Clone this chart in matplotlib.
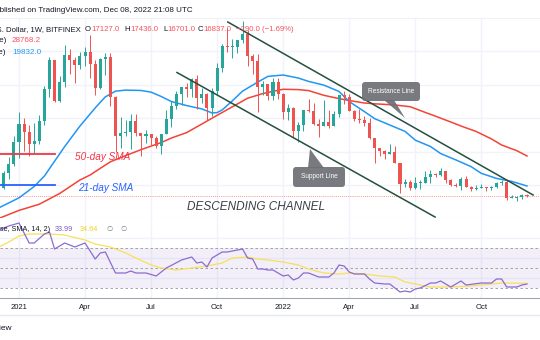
import numpy as np
import pandas as pd
import matplotlib
matplotlib.use('Agg')
import matplotlib.pyplot as plt
from matplotlib.patches import FancyBboxPatch, Polygon

plt.rcParams['font.family'] = ['Liberation Sans', 'DejaVu Sans']

# weekly BTC/USD candles, first bar = week of 2020-12-07
first_week = '2020-12-07'
opens = [19150, 19270, 23850, 26270, 33000, 38200, 36000, 32300, 33100, 39200,
         48600, 57500, 45100, 50900, 59000, 57400, 55800, 58700, 59700, 56200,
         49100, 57800, 58200, 46400, 34700, 35600, 35800, 39100, 35500, 34700,
         35300, 34200, 31800, 35400, 39900, 43800, 47100, 49300, 48800, 51800,
         46000, 47300, 43200, 48200, 54900, 61500, 61300, 61300, 63300, 65000,
         58600, 57200, 49400, 50100, 46700, 50800, 47300, 41800, 43100, 36300,
         37900, 42400, 42200, 38400, 37700, 38800, 37800, 41300, 46800, 46400,
         42200, 39700, 39500, 38500, 34000, 31300, 30300, 29400, 29900, 26600,
         20500, 21000, 19300, 20800, 20800, 22600, 23300, 23200, 24300, 21500,
         20000, 19800, 21800, 19400, 18800, 19300, 19400, 19200, 19600, 20600,
         20900, 16300, 16300, 16500, 17127]
highs = [19420, 24300, 28400, 34800, 41950, 40100, 37900, 38600, 40900, 49700,
         58400, 57500, 52600, 61800, 60800, 58400, 59800, 61300, 64900, 57300,
         58000, 59500, 59600, 46600, 40400, 39500, 41300, 41300, 35500, 36600,
         35300, 34700, 35400, 42600, 45300, 48100, 49300, 50500, 51900, 52900,
         48900, 47400, 49000, 56500, 62000, 67000, 63700, 63400, 69000, 66300,
         59300, 59200, 51000, 50300, 52000, 52100, 47600, 44400, 43500, 38900,
         42600, 45800, 44700, 39700, 45400, 42400, 42300, 46900, 48200, 47100,
         42400, 42900, 40800, 40000, 34200, 31300, 30600, 32300, 31700, 26800,
         21800, 21500, 22400, 21600, 24200, 24700, 23600, 25200, 24400, 21800,
         20600, 22400, 22700, 19900, 20200, 20500, 19500, 19700, 20900, 21500,
         21500, 17200, 16800, 17400, 17436]
lows = [17600, 19000, 21900, 25900, 28100, 30400, 28900, 29300, 32300, 37900,
        46300, 44900, 45000, 49300, 53200, 50400, 54700, 55500, 52000, 47000,
        48800, 53000, 43800, 30000, 31200, 34800, 31000, 34800, 28800, 32700,
        32100, 31100, 29300, 35200, 37400, 42800, 43900, 46400, 46500, 42900,
        44700, 39600, 40800, 47000, 53900, 59700, 58000, 59400, 62300, 55700,
        53300, 42000, 46900, 45600, 45600, 45700, 39700, 39500, 34000, 32900,
        36300, 41800, 38100, 34300, 37700, 37200, 37600, 40500, 44200, 42200,
        39200, 38600, 37700, 33700, 26700, 28700, 28000, 29300, 26600, 17600,
        19600, 18600, 19000, 18900, 20800, 20700, 22400, 22700, 20800, 19800,
        19600, 18600, 19400, 18200, 18500, 19300, 18200, 18700, 19300, 20100,
        15600, 16200, 15500, 16000, 16701]
closes = [19270, 23850, 26270, 33000, 38200, 36000, 32300, 33100, 39200, 48600,
          57500, 45100, 50900, 59000, 57400, 55800, 58700, 59700, 56200, 49100,
          57800, 58200, 46400, 34700, 35600, 35800, 39100, 35500, 34700, 35300,
          34200, 31800, 35400, 39900, 43800, 47100, 49300, 48800, 51800, 46000,
          47300, 43200, 48200, 54900, 61500, 61300, 61300, 63300, 65000, 58600,
          57200, 49400, 50100, 46700, 50800, 47300, 41800, 43100, 36300, 37900,
          42400, 42200, 38400, 37700, 38800, 37800, 41300, 46800, 46400, 42200,
          39700, 39500, 38500, 34000, 31300, 30300, 29400, 29900, 26600, 20500,
          21000, 19300, 20800, 20800, 22600, 23300, 23200, 24300, 21500, 20000,
          19800, 21800, 19400, 18800, 19300, 19400, 19200, 19600, 20600, 20900,
          16300, 16300, 16500, 17127, 16837]

# moving averages (bar index, price)
sma21_idx = [0, 4, 7, 9, 10, 13, 16, 19, 21, 23, 25, 28, 30, 32, 34, 37, 40, 42, 43, 44,
             46, 48, 51, 53, 56, 59, 61, 64, 67, 69, 72, 74, 77, 80, 82, 85, 87, 90, 93, 95,
             98, 101, 104]
sma21_val = [13300, 16300, 19700, 22800, 25000, 31600, 37700, 43100, 46400, 48100,
             48400, 48300, 47800, 46500, 45000, 43800, 42800, 41600, 41700, 42500,
             45200, 48100, 50800, 52500, 52900, 52000, 51000, 49900, 48000, 45000,
             42000, 39900, 38000, 36100, 33500, 31600, 29500, 27600, 25600, 23600,
             22100, 21200, 19832]
sma50_idx = [0, 4, 8, 12, 16, 18, 20, 22, 25, 28, 32, 34, 37, 40, 43, 46, 49, 52, 53, 56,
             59, 61, 64, 67, 69, 72, 74, 78, 81, 84, 86, 89, 91, 94, 97, 99, 102, 104]
sma50_val = [10140, 12560, 14410, 17600, 21620, 23110, 25100, 27040, 28890, 30650,
             32770, 34130, 35740, 38310, 40900, 43430, 45990, 47370, 47720, 48650,
             48560, 48260, 46860, 45870, 45310, 44560, 44330, 43970, 43460, 41740,
             40630, 38900, 37710, 36070, 33860, 32050, 30350, 28768.2]

# RSI and its SMA
rsi_idx = [0, 2, 4, 6, 7, 9, 10, 11, 13, 15, 17, 19, 20, 21, 23, 25, 26, 27, 29, 31,
           33, 36, 38, 39, 40, 41, 42, 44, 45, 48, 49, 50, 51, 52, 53, 54, 56, 57, 58, 59,
           60, 61, 63, 65, 66, 67, 68, 69, 70, 72, 73, 74, 76, 77, 79, 80, 81, 82, 83, 85,
           86, 87, 88, 89, 91, 92, 95, 97, 98, 99, 100, 102, 103, 104]
rsi_val = [88, 92, 95, 75, 75, 84, 86, 69, 75, 71, 75, 59, 65, 66, 45, 45, 47, 45, 45, 42,
           50, 58, 61, 55, 56, 51, 60, 66, 66, 69, 60, 59, 49, 49, 48, 48, 42, 43, 38, 40,
           45, 45, 41, 41, 45, 53, 52, 46, 44, 44, 39, 35, 34, 34, 26, 27, 26, 29, 30, 35,
           35, 37, 34, 31, 37, 33, 35, 35, 39, 39, 31, 31, 33, 33.99]
rsi_sma_idx = [0, 2, 4, 6, 10, 13, 17, 19, 22, 25, 27, 30, 32, 35, 38, 41, 44, 46, 49, 51,
               53, 56, 59, 61, 64, 67, 69, 72, 75, 78, 80, 83, 85, 89, 93, 97, 99, 104]
rsi_sma_val = [71, 76, 82, 84, 84, 83, 78, 74, 71, 65, 60, 53, 50, 48, 50, 52, 55, 60, 61, 59,
               58, 56, 53, 49, 45, 44, 45, 44, 42, 41, 36, 33, 31, 31, 32, 34, 35, 34.64]

# hand drawn channel (bar index, price)
resist_idx = [45.1, 105.2]
resist_px = [68700, 17150]
support_idx = [35.1, 85.9]
support_px = [53650, 10590]

GREEN = '#26a69a'
RED = '#ef5350'
GRID = '#f0f3fa'

o = np.array(opens); h = np.array(highs); l = np.array(lows); c = np.array(closes)
idx = np.arange(len(c))
dates = pd.date_range(first_week, periods=len(c), freq='7D')

# first bar of every quarter gets a label
q_idx, q_lab = [], []
for i in range(1, len(dates)):
  if dates[i].month in (1, 4, 7, 10) and dates[i].month != dates[i-1].month:
    q_idx.append(i)
    q_lab.append(str(dates[i].year) if dates[i].month == 1 else dates[i].strftime('%b'))

fig = plt.figure(figsize=(5.4, 3.4), dpi=100)
W, H = 540.0, 340.0
xlim = (0.26, 106.56)

# price pane
ax = fig.add_axes([0, 1 - 218/H, 1, 200/H])
ax.set_xlim(*xlim)
ax.set_ylim(10294, 69894)
ax.set_xticks(q_idx)
ax.set_yticks([20000, 30000, 40000, 50000, 60000])
ax.tick_params(length=0, labelbottom=False, labelleft=False)
ax.grid(color=GRID, lw=1)
ax.set_axisbelow(True)
for s in ['left', 'right']:
  ax.spines[s].set_visible(False)
ax.spines['top'].set_color('#eef1f6')
ax.spines['bottom'].set_color('#e0e3eb')

ax.plot(sma50_idx, sma50_val, color='#f44336', lw=1.1, zorder=2)
ax.plot(sma21_idx, sma21_val, color='#2196f3', lw=1.1, zorder=2)

up = c >= o
cols = np.where(up, GREEN, RED)
ax.vlines(idx, l, h, colors=cols, lw=0.7, zorder=3)
body = np.maximum(np.abs(c - o), 150)
ax.bar(idx, body, bottom=np.minimum(o, c), width=0.6, color=cols, zorder=3)

ax.axhline(c[-1], color=RED, ls=(0, (1, 1.5)), lw=0.6, alpha=0.8, zorder=2)

ax.plot(resist_idx, resist_px, color='#24503f', lw=1.1, zorder=4)
ax.plot(support_idx, support_px, color='#24503f', lw=1.1, zorder=4)

# RSI pane
rx = fig.add_axes([0, 1 - 298/H, 1, 80/H])
rx.set_xlim(*xlim)
rx.set_ylim(20, 100)
rx.set_xticks(q_idx, q_lab)
rx.set_yticks([40, 60, 80])
rx.tick_params(length=0, labelleft=False, pad=4, labelsize=5.5, labelcolor='#131722')
rx.grid(color=GRID, lw=1)
rx.set_axisbelow(True)
for s in ['left', 'right', 'top']:
  rx.spines[s].set_visible(False)
rx.spines['bottom'].set_color('#a3a6af')
rx.axhspan(30, 70, color='#7e57c2', alpha=0.09, lw=0)
for lvl in (30, 50, 70):
  rx.axhline(lvl, color='#9598a1', lw=0.6, dashes=(3, 3))
rx.plot(rsi_sma_idx, rsi_sma_val, color='#f7e05a', lw=0.9)
rx.plot(rsi_idx, rsi_val, color='#8c6bd0', lw=0.9)

# overlay in pixel units for texts and drawings
ov = fig.add_axes([0, 0, 1, 1], facecolor='none')
ov.set_xlim(0, W)
ov.set_ylim(H, 0)
ov.axis('off')

def txt(x, y, s, **kw):
  kw.setdefault('fontsize', 5.8)
  kw.setdefault('color', '#131722')
  ov.text(x, y, s, va='center', **kw)

txt(-10.5, 10, 'Published on TradingView.com, Dec 08, 2022 21:08 UTC')
txt(81, 29.3, 'Bitcoin / U.S. Dollar, 1W, BITFINEX', ha='right', fontsize=5.6)
hdr_red = '#f7525f'
for lab, xl, val, xv in [('O', 85, '17127.0', 91.5), ('H', 124, '17436.0', 130),
                         ('L', 163, '16701.0', 167.5), ('C', 197.5, '16837.0', 203.5)]:
  txt(xl, 29.3, lab, fontsize=5.6)
  txt(xv, 29.3, val, color=hdr_red, fontsize=5.6)
txt(236, 29.3, '\u2212290.0 (\u22121.69%)', color=hdr_red, fontsize=5.6)
txt(6, 41, 'MA (50, close)', ha='right')
txt(12, 41, '28768.2', color=hdr_red)
txt(6, 53, 'MA (21, close)', ha='right')
txt(12, 53, '19832.0', color='#2196f3')

txt(50, 229.3, 'RSI (14, close, SMA, 14, 2)', ha='right', fontsize=5.2)
txt(55, 229.3, '33.99', color='#7e57c2', fontsize=5.2)
txt(80, 229.3, '34.64', color='#f2d024', fontsize=5.2)
txt(106, 229.3, '\u2205', color='#787b86', fontsize=5.2)
txt(120, 229.3, '\u2205', color='#787b86', fontsize=5.2)

# legend style labels drawn on chart
ov.plot([0, 55], [154, 154], color='#f23645', lw=1.3)
txt(75, 157, '50-day SMA', color='#f23645', fontsize=7.2, style='italic')
ov.plot([0, 55], [184.5, 184.5], color='#2962ff', lw=1.3)
txt(78, 188, '21-day SMA', color='#2962ff', fontsize=7.2, style='italic')

txt(187, 207, 'DESCENDING CHANNEL', color='#3c3f48', fontsize=8.5, style='italic')

# callouts
box_col = '#6d6f75'
ov.add_patch(Polygon([(384, 100), (394, 100), (405, 118)], closed=True, color=box_col, alpha=0.92, lw=0))
ov.add_patch(FancyBboxPatch((362, 82), 58, 19, boxstyle='round,pad=0,rounding_size=3',
                            color=box_col, alpha=0.92, lw=0))
txt(391, 91.5, 'Resistance Line', color='white', fontsize=4.7, ha='center')
ov.add_patch(Polygon([(310, 149), (308, 168), (324, 168)], closed=True, color=box_col, alpha=0.92, lw=0))
ov.add_patch(FancyBboxPatch((293, 167), 52, 20, boxstyle='round,pad=0,rounding_size=3',
                            color=box_col, alpha=0.92, lw=0))
txt(319, 177, 'Support Line', color='white', fontsize=4.7, ha='center')

# footer
ov.plot([0, W], [315, 315], color='#e6e9f0', lw=1)
txt(12, 328, 'TradingView', ha='right', fontsize=6)

fig.savefig('out.png', dpi=100)
